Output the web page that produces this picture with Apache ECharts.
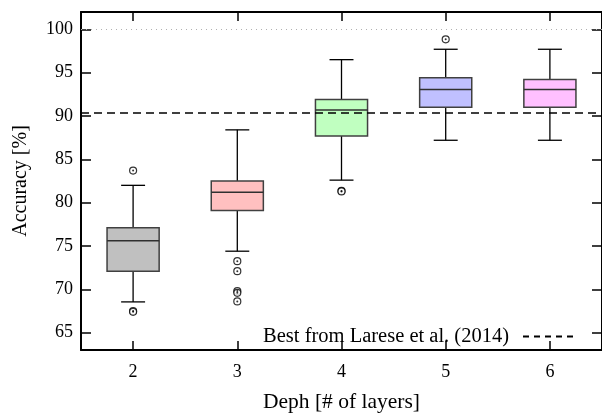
<!DOCTYPE html>
<html>
<head>
<meta charset="utf-8">
<script src="https://cdn.jsdelivr.net/npm/echarts@6/dist/echarts.min.js"></script>
<style>
html,body{margin:0;padding:0;background:#fff;}
#chart{width:602px;height:418px;}
</style>
</head>
<body>
<div id="chart"></div>
<script>
const categories = ['2', '3', '4', '5', '6'];
const lowWhisker = [68.55, 74.4, 82.6, 87.2, 87.2];
const q1 = [72.1, 79.1, 87.7, 91.0, 91.0];
const median = [75.6, 81.2, 90.7, 93.05, 93.05];
const q3 = [77.1, 82.5, 91.9, 94.4, 94.2];
const highWhisker = [82.0, 88.4, 96.5, 97.7, 97.7];
const outlierDepthIndex = [0, 0, 0, 1, 1, 1, 1, 1, 2, 2, 3];
const outlierValue = [83.7, 67.5, 67.4, 73.25, 72.1, 69.8, 69.6, 68.6, 81.35, 81.3, 98.85];
const bestLarese = 90.4;
const perfectLine = 100;
const yTicks = [65, 70, 75, 80, 85, 90, 95, 100];
const yMin = 63, yMax = 102;

const boxFill = ['#c0c0c0', '#ffc0c0', '#c0ffc0', '#c0c0ff', '#ffc0ff'];
const FONT = '"Liberation Serif", "DejaVu Serif", serif';

const boxData = categories.map((c, i) => [i, lowWhisker[i], q1[i], median[i], q3[i], highWhisker[i]]);
const outlierData = outlierDepthIndex.map((d, i) => [d, outlierValue[i]]);

function renderBox(params, api) {
  const idx = api.value(0);
  const band = api.size([1, 0])[0];
  const halfBox = band * 0.25;
  const halfCap = band * 0.115;
  const pLow = api.coord([idx, api.value(1)]);
  const pQ1 = api.coord([idx, api.value(2)]);
  const pMed = api.coord([idx, api.value(3)]);
  const pQ3 = api.coord([idx, api.value(4)]);
  const pHigh = api.coord([idx, api.value(5)]);
  const x = pMed[0];
  const blk = { stroke: '#000', lineWidth: 1.3 };
  return {
    type: 'group',
    children: [
      { type: 'line', shape: { x1: x, y1: pHigh[1], x2: x, y2: pQ3[1] }, style: blk },
      { type: 'line', shape: { x1: x, y1: pLow[1], x2: x, y2: pQ1[1] }, style: blk },
      { type: 'line', shape: { x1: x - halfCap, y1: pHigh[1], x2: x + halfCap, y2: pHigh[1] }, style: blk },
      { type: 'line', shape: { x1: x - halfCap, y1: pLow[1], x2: x + halfCap, y2: pLow[1] }, style: blk },
      { type: 'rect', shape: { x: x - halfBox, y: pQ3[1], width: halfBox * 2, height: pQ1[1] - pQ3[1] },
        style: { fill: boxFill[idx], stroke: '#404040', lineWidth: 1.5 } },
      { type: 'line', shape: { x1: x - halfBox, y1: pMed[1], x2: x + halfBox, y2: pMed[1] },
        style: { stroke: '#303030', lineWidth: 1.5 } }
    ]
  };
}

const axisLine = { show: true, lineStyle: { color: '#000', width: 2 } };
const chart = echarts.init(document.getElementById('chart'), null, { renderer: 'canvas' });
chart.setOption({
  animation: false,
  backgroundColor: '#fff',
  grid: { left: 81, top: 12, width: 525, height: 341, containLabel: false },
  legend: {
    right: 20, top: 321,
    data: [{ name: 'Best from Larese et al. (2014)' }],
    align: 'right',
    itemWidth: 53, itemHeight: 14,
    itemStyle: { opacity: 0 },
    textStyle: { fontFamily: FONT, fontSize: 20.5, color: '#000', padding: [0, 9, 0, 0] }
  },
  xAxis: [
    {
      type: 'category', data: categories, position: 'bottom',
      axisLine: axisLine,
      axisTick: { show: true, inside: true, alignWithLabel: true, length: 9, lineStyle: { color: '#000', width: 1.5 } },
      axisLabel: { fontFamily: FONT, fontSize: 18, color: '#000', margin: 13 },
      splitLine: { show: false },
      name: 'Deph [# of layers]', nameLocation: 'middle', nameGap: 41,
      nameTextStyle: { fontFamily: FONT, fontSize: 21.5, color: '#000' }
    },
    {
      type: 'category', data: categories, position: 'top',
      axisLine: axisLine,
      axisTick: { show: true, inside: true, alignWithLabel: true, length: 9, lineStyle: { color: '#000', width: 1.5 } },
      axisLabel: { show: false }, splitLine: { show: false }
    }
  ],
  yAxis: [
    {
      type: 'value', min: yMin, max: yMax, position: 'left',
      axisLine: axisLine,
      axisTick: { show: true, inside: true, length: 10, customValues: yTicks, lineStyle: { color: '#000', width: 1.5 } },
      axisLabel: { fontFamily: FONT, fontSize: 18, color: '#000', margin: 8, customValues: yTicks },
      splitLine: { show: false },
      name: 'Accuracy [%]', nameLocation: 'middle', nameGap: 50,
      nameTextStyle: { fontFamily: FONT, fontSize: 20, color: '#000' }
    },
    {
      type: 'value', min: yMin, max: yMax, position: 'right',
      axisLine: axisLine,
      axisTick: { show: true, inside: true, length: 10, customValues: yTicks, lineStyle: { color: '#000', width: 1.5 } },
      axisLabel: { show: false }, splitLine: { show: false }
    }
  ],
  series: [
    {
      name: 'perfect', type: 'line', data: [], silent: true,
      markLine: { silent: true, symbol: 'none', label: { show: false },
        lineStyle: { color: '#b0b0b0', type: [1, 4], width: 1 },
        data: [{ yAxis: perfectLine }] }
    },
    {
      name: 'Best from Larese et al. (2014)', type: 'line', data: [], symbol: 'none',
      lineStyle: { color: '#000', type: [6, 5], width: 1.2 },
      itemStyle: { color: '#000' },
      markLine: { silent: true, symbol: 'none', label: { show: false },
        lineStyle: { color: '#000', type: [8, 5], width: 1.5 },
        data: [{ yAxis: bestLarese }] }
    },
    {
      name: 'box', type: 'custom', renderItem: renderBox, data: boxData,
      encode: { x: 0, y: [1, 2, 3, 4, 5] }, z: 3
    },
    {
      name: 'outliers', type: 'scatter', data: outlierData, symbol: 'circle', symbolSize: 7,
      itemStyle: { color: '#fff', borderColor: '#000', borderWidth: 1.2 }, z: 4
    },
    {
      name: 'outlierDot', type: 'scatter', data: outlierData, symbol: 'circle', symbolSize: 2,
      itemStyle: { color: '#000' }, z: 5
    }
  ]
});
</script>
</body>
</html>
